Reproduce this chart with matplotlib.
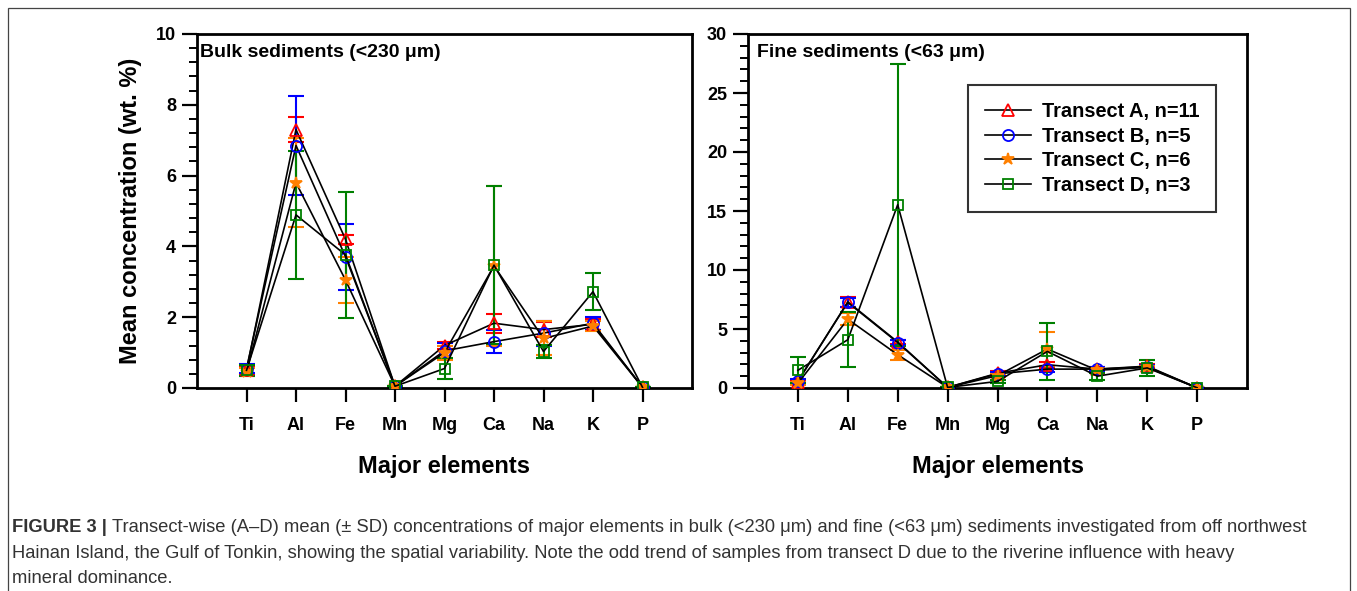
import numpy as np
import matplotlib
matplotlib.use('Agg')
import matplotlib.pyplot as plt
from matplotlib.patches import Rectangle
from matplotlib.ticker import MultipleLocator

plt.rcParams['font.family'] = ['Liberation Sans', 'DejaVu Sans']
plt.rcParams['font.weight'] = 'bold'

# 元素
elements = ['Ti', 'Al', 'Fe', 'Mn', 'Mg', 'Ca', 'Na', 'K', 'P']
labels = ['Transect A, n=11', 'Transect B, n=5', 'Transect C, n=6', 'Transect D, n=3']

# 全样 (<230 µm) 平均值与标准差
bulk_A = [0.50, 7.30, 4.20, 0.05, 1.20, 1.83, 1.65, 1.80, 0.02]
bulk_A_sd = [0.12, 0.36, 0.12, 0.02, 0.10, 0.27, 0.22, 0.15, 0.01]
bulk_B = [0.55, 6.85, 3.71, 0.05, 1.05, 1.31, 1.55, 1.83, 0.02]
bulk_B_sd = [0.12, 1.40, 0.93, 0.02, 0.22, 0.33, 0.35, 0.18, 0.01]
bulk_C = [0.45, 5.80, 3.05, 0.05, 1.00, 3.45, 1.40, 1.75, 0.02]
bulk_C_sd = [0.12, 1.25, 0.65, 0.02, 0.20, 2.26, 0.48, 0.13, 0.01]
bulk_D = [0.50, 4.89, 3.76, 0.05, 0.55, 3.47, 1.03, 2.72, 0.02]
bulk_D_sd = [0.15, 1.80, 1.79, 0.02, 0.30, 2.24, 0.18, 0.52, 0.01]

# 细颗粒 (<63 µm)
fine_A = [0.55, 7.30, 3.90, 0.05, 1.25, 1.97, 1.60, 1.85, 0.02]
fine_A_sd = [0.15, 0.45, 0.20, 0.02, 0.15, 0.25, 0.20, 0.15, 0.01]
fine_B = [0.60, 7.25, 3.85, 0.05, 1.20, 1.60, 1.60, 1.80, 0.02]
fine_B_sd = [0.15, 0.40, 0.20, 0.02, 0.15, 0.25, 0.20, 0.15, 0.01]
fine_C = [0.40, 5.83, 2.82, 0.05, 1.05, 3.30, 1.50, 1.75, 0.02]
fine_C_sd = [0.12, 0.52, 0.42, 0.02, 0.15, 1.45, 0.20, 0.12, 0.01]
fine_D = [1.50, 4.09, 15.53, 0.05, 0.56, 3.10, 1.00, 1.70, 0.02]
fine_D_sd = [1.10, 2.35, 11.95, 0.02, 0.15, 2.40, 0.30, 0.70, 0.01]

colors = ['#FF0000', '#0000FF', '#FF8000', '#008000']
markers = ['^', 'o', '*', 's']
faces = ['none', 'none', '#FF8000', 'none']
msizes = [8, 8, 9, 7.5]

fig = plt.figure(figsize=(13.57, 5.91), dpi=100)

# 外框
fig.patches.append(Rectangle((8 / 1357, -0.01), 1342 / 1357, 1 - 8 / 591 + 0.01,
                             transform=fig.transFigure, fill=False,
                             edgecolor='#444444', linewidth=0.9))

ax1 = fig.add_axes([197 / 1357, 203 / 591, 495 / 1357, 354 / 591])
ax2 = fig.add_axes([748 / 1357, 203 / 591, 499 / 1357, 354 / 591])

x = np.arange(len(elements))


def draw_panel(ax, means, sds, ymax, major, minor, title, tx):
    for i in range(4):
        ax.errorbar(x, means[i], yerr=sds[i], fmt='none', ecolor=colors[i],
                    elinewidth=1.5, capsize=6, capthick=1.5, zorder=2)
    for i in range(4):
        ax.plot(x, means[i], color='black', linewidth=1.2, marker=markers[i],
                markersize=msizes[i], markerfacecolor=faces[i],
                markeredgecolor=colors[i], markeredgewidth=1.3,
                label=labels[i], zorder=3)
    ax.set_xlim(-1, 9)
    ax.set_ylim(0, ymax)
    ax.set_xticks(x)
    ax.set_xticklabels(elements)
    ax.yaxis.set_major_locator(MultipleLocator(major))
    ax.yaxis.set_minor_locator(MultipleLocator(minor))
    for s in ax.spines.values():
        s.set_linewidth(2)
    ax.tick_params(axis='y', which='major', direction='out', length=11, width=1.6,
                   labelsize=13, pad=4)
    ax.tick_params(axis='y', which='minor', direction='out', length=6, width=1.4)
    ax.tick_params(axis='x', which='major', direction='out', length=10, width=1.6,
                   labelsize=13, pad=11)
    ax.set_xlabel('Major elements', fontsize=17, fontweight='bold', labelpad=15)
    ax.text(tx, 0.972, title, transform=ax.transAxes, ha='left', va='top',
            fontsize=14, fontweight='bold')


draw_panel(ax1, [bulk_A, bulk_B, bulk_C, bulk_D],
           [bulk_A_sd, bulk_B_sd, bulk_C_sd, bulk_D_sd],
           10, 2, 0.4, 'Bulk sediments (<230 μm)', 0.006)
draw_panel(ax2, [fine_A, fine_B, fine_C, fine_D],
           [fine_A_sd, fine_B_sd, fine_C_sd, fine_D_sd],
           30, 5, 1, 'Fine sediments (<63 μm)', 0.018)

ax1.set_ylabel('Mean concentration (wt. %)', fontsize=17, fontweight='bold', labelpad=10)

leg = ax2.legend(loc='upper right', bbox_to_anchor=(0.938, 0.856), fontsize=14.4,
                 frameon=True, fancybox=False, edgecolor='black', handlelength=2.3,
                 handletextpad=0.55, labelspacing=0.28, borderpad=0.85,
                 borderaxespad=0)
leg.get_frame().set_linewidth(1.5)

# 图注
cap_kw = dict(fontsize=13.2, color='#333333',
              family=['Liberation Sans', 'DejaVu Sans'])
t0 = fig.text(12 / 1357, 1 - 536 / 591, 'FIGURE 3 | ', fontweight='bold',
              va='bottom', **cap_kw)
ax1.annotate('Transect-wise (A–D) mean (± SD) concentrations of major elements in bulk '
             '(<230 μm) and fine (<63 μm) sediments investigated from off northwest',
             xy=(1, 0), xycoords=t0, fontweight='normal', va='bottom',
             annotation_clip=False, **cap_kw)
fig.text(12 / 1357, 1 - 562 / 591,
         'Hainan Island, the Gulf of Tonkin, showing the spatial variability. Note the odd '
         'trend of samples from transect D due to the riverine influence with heavy',
         fontweight='normal', va='bottom', **cap_kw)
fig.text(12 / 1357, 1 - 587 / 591, 'mineral dominance.', fontweight='normal',
         va='bottom', **cap_kw)

fig.savefig('out.png', dpi=100)
